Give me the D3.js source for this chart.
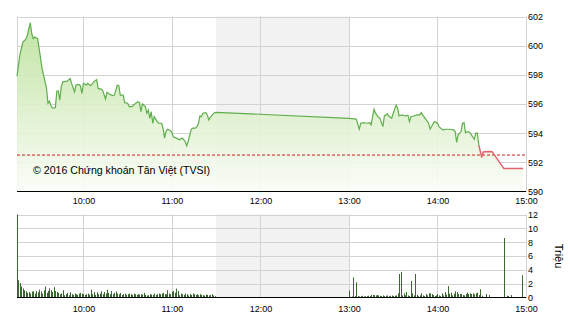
<!DOCTYPE html>
<html>
<head>
<meta charset="utf-8">
<script src="https://cdn.jsdelivr.net/npm/d3@7/dist/d3.min.js"></script>
<style>
	body { margin: 0; background: #fff; }
	svg { display: block; font-family: "Liberation Sans", Arial, sans-serif; }
	.tick text { fill: #000; font-size: 9px; }
</style>
</head>
<body>
<div id="chart"></div>
<script>

// price line, continuous session (green)
var priceTimes = [
	"09:15","09:17","09:19","09:21","09:22","09:23","09:24","09:25","09:26","09:27",
	"09:29","09:30","09:31","09:32","09:33","09:35","09:36","09:37","09:38","09:39",
	"09:40","09:41","09:42","09:43","09:44","09:45","09:46","09:49","09:51","09:52",
	"09:54","09:55","09:57","09:58","09:59","10:00","10:02","10:03","10:05","10:07",
	"10:09","10:10","10:12","10:13","10:15","10:16","10:18","10:20","10:21","10:23",
	"10:24","10:25","10:27","10:28","10:30","10:31","10:33","10:34","10:36","10:37",
	"10:38","10:39","10:40","10:42","10:43","10:44","10:45","10:46","10:47","10:48",
	"10:50","10:51","10:53","10:54","10:55","10:56","10:57","10:59","11:00","11:01",
	"11:03","11:05","11:07","11:08","11:09","11:10","11:11","11:13","11:14","11:16",
	"11:17","11:18","11:19","11:20","11:21","11:23","11:24","11:25","11:26","11:28",
	"11:29","11:30",
	"13:00","13:04","13:05","13:07","13:08","13:10","13:12","13:14","13:15","13:17",
	"13:18","13:20","13:21","13:23","13:24","13:26","13:27","13:29","13:30","13:32",
	"13:33","13:34","13:36","13:38","13:40","13:41","13:42","13:44","13:46","13:48",
	"13:49","13:50","13:52","13:54","13:55","13:57","13:58","14:00","14:01","14:03",
	"14:04","14:06","14:08","14:11","14:12","14:13","14:14","14:16","14:17","14:18",
	"14:19","14:21","14:22","14:24","14:25","14:26","14:27","14:28"
];
var priceValues = [
	597.90,599.40,600.25,600.45,600.70,601.16,601.57,600.82,600.48,600.59,
	600.48,599.80,599.12,598.43,597.98,597.07,596.05,596.20,595.88,595.75,
	595.71,595.75,596.89,596.89,596.27,597.18,597.52,597.57,597.75,597.41,
	596.84,597.30,597.34,597.25,596.73,597.41,597.30,597.41,597.25,597.52,
	597.68,597.07,597.02,596.95,596.34,596.80,596.66,596.57,596.61,597.30,
	597.25,596.61,596.61,596.09,596.05,595.82,595.82,595.93,596.09,596.16,
	596.09,595.47,596.00,595.82,595.37,595.59,595.02,595.47,594.68,595.13,
	594.79,594.68,594.68,594.34,593.66,594.11,594.27,594.18,594.04,593.73,
	593.66,593.55,593.66,593.55,593.43,593.14,593.43,594.23,594.34,594.34,
	594.45,594.68,595.18,595.13,595.37,595.41,595.25,594.91,595.09,595.32,
	595.41,595.43,
	595.02,594.98,594.96,594.27,594.68,594.72,594.68,594.72,594.57,595.64,
	595.37,595.09,595.02,594.45,595.18,595.32,595.18,595.02,595.37,595.93,
	595.71,595.18,595.25,595.18,595.23,594.79,595.13,595.18,595.25,595.25,
	595.41,595.25,594.96,594.68,594.27,594.64,594.79,594.68,594.45,594.27,
	594.23,594.27,594.27,594.23,594.11,593.36,593.89,594.11,594.68,594.72,
	594.04,594.11,594.04,593.73,593.59,594.00,594.00,593.20
];

// closing part (red)
var closeTimes  = ["14:28","14:30","14:31","14:35","14:37","14:45","14:58"];
var closeValues = [593.20,592.32,592.71,592.75,592.73,591.57,591.57];

var refPrice = 592.5;

var priceTicks  = [590,592,594,596,598,600,602];
var volumeTicks = [0,2,4,6,8,10,12];
var hourTicks   = ["10:00","11:00","12:00","13:00","14:00","15:00"];
var lunchBreak  = ["11:30","13:00"];

// volume in millions, one bar a minute
var volAMStart = "09:15";
var volAM = [
	12,2.5,2.1,1.6,1.3,1.05,0.9,0.67,0.8,0.57,
	0.86,0.9,0.57,0.95,0.76,1.14,0.9,0.57,1.05,1.6,
	0.67,0.95,1.3,1.05,0.8,1.5,0.95,0.8,0.67,0.48,
	0.57,1.05,0.33,0.48,0.67,0.33,0.76,0.48,0.38,0.57,
	0.48,0.38,0.57,0.67,0.57,0.48,0.38,0.48,0.57,0.38,
	1.14,0.48,0.8,0.38,0.76,0.48,0.57,0.9,0.48,0.8,
	0.57,1.14,0.67,0.48,0.95,0.48,0.67,0.86,0.57,0.48,
	0.67,0.38,0.48,0.57,0.38,0.48,0.57,0.48,0.38,0.57,
	0.48,0.38,0.48,0.43,0.48,0.43,0.67,0.38,0.29,0.33,
	0.48,0.43,0.38,0.57,0.38,0.48,0.57,0.48,0.57,0.67,
	0.48,0.48,1.05,0.57,0.48,0.81,0.95,0.67,1.29,0.95,
	0.33,0.57,0.48,0.38,0.57,0.48,0.29,0.48,0.38,0.57,
	0.48,0.38,0.48,0.33,0.48,0.38,0.33,0.29,0.43,0.38,
	0.29,0.38,0.48,0.29,0.19
];
var volPMStart = "13:00";
var volPM = [
	1.0,0.1,0.15,2.9,0.2,2.2,0.2,0.15,0.2,0.25,
	0.15,0.2,0.2,0.25,0.2,0.4,0.35,0.35,0.3,0.35,
	0.3,0.25,0.2,0.3,0.2,0.25,0.3,0.2,0.25,0.3,
	0.2,0.25,0.3,0.6,3.4,3.7,0.3,0.6,0.3,0.8,
	0.3,0.2,2.4,0.6,0.3,3.4,0.4,0.2,0.3,0.6,
	0.3,0.2,0.5,0.3,0.6,0.6,0.5,0.35,0.2,0.3,
	0.5,0.3,0.2,0.6,0.3,0.8,0.4,1.65,0.55,0.7,
	0.3,0.55,0.9,0.8,0.5,0.5,0.5,0.35,0.3,0.5,
	0.7,0.5,0.6,0.5,0.6,0.45,0.6,0.7,0.35,1.2,
	0.25
];
var volLateTimes = ["14:33","14:35","14:45","14:47","14:48","14:50","14:57"];
var volLate      = [0.5,0.35,8.6,0.25,0.2,0.35,3.2];


var W = 570, H = 320;
var left = 17, right = 526;
var parseTime = d3.timeParse("%H:%M");

var svg = d3.select("#chart")
	.append("svg")
	.attr("width", W)
	.attr("height", H);

var x = d3.scaleTime()
	.domain([parseTime("09:15"), parseTime("15:00")])
	.range([left, right]);

var yP = d3.scaleLinear().domain([590, 602]).range([191.5, 16.5]);
var yV = d3.scaleLinear().domain([0, 12]).range([297.5, 214.5]);

function minutesFrom(start, values) {
	var t0 = parseTime(start);
	return values.map(function(v, i) {
		return { t: d3.timeMinute.offset(t0, i), v: v };
	});
}

var priceData = priceTimes.map(function(t, i) {
	return { t: parseTime(t), v: priceValues[i] };
});
var closeData = closeTimes.map(function(t, i) {
	return { t: parseTime(t), v: closeValues[i] };
});
var allPrice = priceData.concat(closeData.slice(1));

var volData = minutesFrom(volAMStart, volAM)
	.concat(minutesFrom(volPMStart, volPM))
	.concat(volLateTimes.map(function(t, i) {
		return { t: parseTime(t), v: volLate[i] };
	}));

var panels = [
	{ y: yP, top: 16.5, bottom: 191.5, ticks: priceTicks, pad: 6.5 },
	{ y: yV, top: 214.5, bottom: 297.5, ticks: volumeTicks, pad: 8.5 }
];

// lunch break band
panels.forEach(function(p) {
	svg.append("rect")
		.attr("x", x(parseTime(lunchBreak[0])))
		.attr("y", p.top)
		.attr("width", x(parseTime(lunchBreak[1])) - x(parseTime(lunchBreak[0])))
		.attr("height", p.bottom - p.top)
		.style("fill", "#f2f2f2");
});

// grid
panels.forEach(function(p) {
	var g = svg.append("g").attr("class", "grid");
	g.selectAll("line.h")
		.data(p.ticks.slice(1))
		.enter().append("line")
		.attr("x1", left).attr("x2", right)
		.attr("y1", function(d) { return Math.round(p.y(d)) + 0.5; })
		.attr("y2", function(d) { return Math.round(p.y(d)) + 0.5; })
		.attr("stroke", "#d3d3d3");
	g.selectAll("line.v")
		.data(hourTicks)
		.enter().append("line")
		.attr("x1", function(d) { return Math.round(x(parseTime(d))) + 0.5; })
		.attr("x2", function(d) { return Math.round(x(parseTime(d))) + 0.5; })
		.attr("y1", p.top).attr("y2", p.bottom)
		.attr("stroke", "#d3d3d3");
	g.append("line")
		.attr("x1", left + 0.5).attr("x2", left + 0.5)
		.attr("y1", p.top).attr("y2", p.bottom)
		.attr("stroke", "#d3d3d3");
});

// area under the price
var defs = svg.append("defs");
var grad = defs.append("linearGradient")
	.attr("id", "fillGrad")
	.attr("gradientUnits", "userSpaceOnUse")
	.attr("x1", 0).attr("x2", 0)
	.attr("y1", yP(602)).attr("y2", yP(590));
grad.append("stop").attr("offset", "0%").attr("stop-color", "#b9e097");
grad.append("stop").attr("offset", "100%").attr("stop-color", "#fbfdf8");

var area = d3.area()
	.x(function(d) { return x(d.t); })
	.y0(yP(590))
	.y1(function(d) { return yP(d.v); });

svg.append("path")
	.datum(allPrice)
	.attr("d", area)
	.style("fill", "url(#fillGrad)")
	.style("fill-opacity", 0.9);

// reference price
svg.append("line")
	.attr("x1", left).attr("x2", right)
	.attr("y1", yP(refPrice)).attr("y2", yP(refPrice))
	.attr("stroke", "#d01c1c")
	.attr("stroke-dasharray", "3,2");

var line = d3.line()
	.x(function(d) { return x(d.t); })
	.y(function(d) { return yP(d.v); });

svg.append("path")
	.datum(priceData)
	.attr("d", line)
	.style("fill", "none")
	.style("stroke", "#5fae4c")
	.style("stroke-width", 1.2);

svg.append("path")
	.datum(closeData)
	.attr("d", line)
	.style("fill", "none")
	.style("stroke", "#e2636f")
	.style("stroke-width", 1.5);

// volume bars
svg.append("g")
	.selectAll("rect")
	.data(volData)
	.enter().append("rect")
	.attr("x", function(d) { return Math.round(x(d.t)); })
	.attr("width", 1)
	.attr("y", function(d) { return yV(Math.min(d.v, 12)); })
	.attr("height", function(d) { return yV(0) - yV(Math.min(d.v, 12)); })
	.style("fill", "#3a6630");

// axes
panels.forEach(function(p) {
	svg.append("line")
		.attr("x1", left).attr("x2", right)
		.attr("y1", p.bottom).attr("y2", p.bottom)
		.attr("stroke", "#000");

	svg.append("g")
		.attr("transform", "translate(0," + p.bottom + ")")
		.call(d3.axisBottom(x)
			.tickValues(hourTicks.map(parseTime))
			.tickFormat(d3.timeFormat("%H:%M"))
			.tickSize(0)
			.tickPadding(p.pad))
		.call(function(g) { g.select(".domain").remove(); });

	svg.append("g")
		.attr("transform", "translate(" + right + ",0)")
		.call(d3.axisRight(p.y)
			.tickValues(p.ticks)
			.tickSize(0)
			.tickPadding(2))
		.call(function(g) { g.select(".domain").attr("stroke", "#d3d3d3"); });
});

svg.append("text")
	.attr("transform", "translate(555,256) rotate(90)")
	.attr("text-anchor", "middle")
	.style("font-size", "11px")
	.text("Triệu");

svg.append("text")
	.attr("x", 33)
	.attr("y", 173.5)
	.style("font-size", "10.6px")
	.text("© 2016 Chứng khoán Tân Việt (TVSI)");

</script>
</body>
</html>
